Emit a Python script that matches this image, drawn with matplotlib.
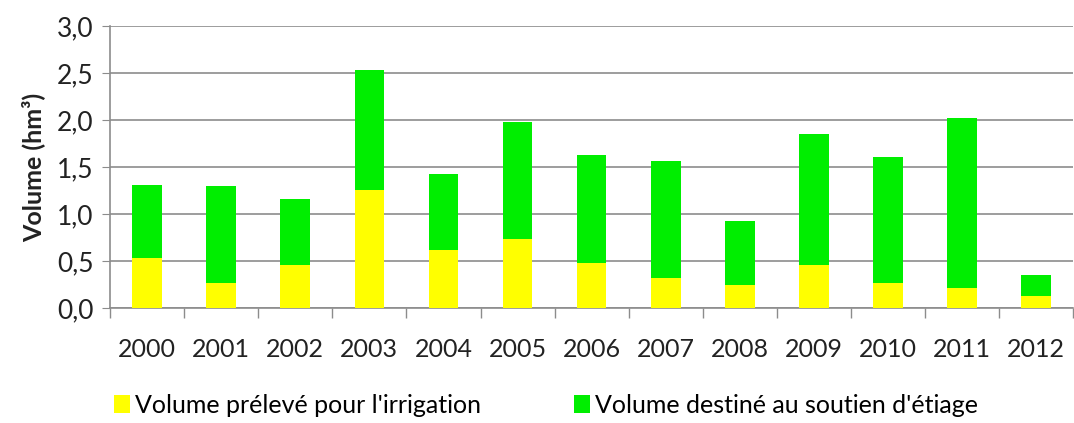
import numpy as np
import matplotlib
matplotlib.use("Agg")
from matplotlib import pyplot as plt
from matplotlib.ticker import FuncFormatter

plt.rcParams['font.family'] = ['Lato', 'DejaVu Sans']

years = ['2000', '2001', '2002', '2003', '2004', '2005', '2006',
         '2007', '2008', '2009', '2010', '2011', '2012']
irrigation = [0.53, 0.27, 0.46, 1.25, 0.62, 0.73, 0.48, 0.32, 0.24, 0.46, 0.27, 0.21, 0.13]
total = [1.31, 1.30, 1.16, 2.53, 1.43, 1.98, 1.63, 1.56, 0.92, 1.85, 1.61, 2.02, 0.35]
etiage = [t - i for t, i in zip(total, irrigation)]

fig = plt.figure(figsize=(10.74, 4.23), dpi=100)
ax = fig.add_axes([0.1024, 0.272, 0.897, 0.6665])

x = np.arange(len(years))
ax.bar(x, irrigation, width=0.4, color='#ffff00', label="Volume prélevé pour l'irrigation", zorder=3)
ax.bar(x, etiage, width=0.4, bottom=irrigation, color='#00ee00', label="Volume destiné au soutien d'étiage", zorder=3)

ax.set_xlim(-0.5, len(years) - 0.5)
ax.set_ylim(0, 3.0)
ax.set_yticks(np.arange(0, 3.01, 0.5))
ax.yaxis.set_major_formatter(FuncFormatter(lambda v, p: f"{v:.1f}".replace('.', ',')))
ax.yaxis.grid(True, color='#8c8c8c', linewidth=1.2, zorder=0)

ax.set_xticks(x)
ax.set_xticklabels(years)
ax.set_xticks(np.arange(-0.5, len(years), 1), minor=True)
ax.tick_params(axis='x', which='major', length=0, pad=22, labelsize=18, labelcolor='#222222')
ax.tick_params(axis='x', which='minor', length=7, color='#8c8c8c', width=1)
ax.tick_params(axis='y', length=6, color='#8c8c8c', labelsize=19, labelcolor='#222222', pad=6)

for s in ['top', 'right']:
    ax.spines[s].set_visible(False)
for s in ['left', 'bottom']:
    ax.spines[s].set_color('#8c8c8c')
    ax.spines[s].set_linewidth(1.2)

ax.set_ylabel('Volume (hm³)', fontsize=18, fontweight='bold', color='#222222', labelpad=8)

fig.legend(loc='lower left', bbox_to_anchor=(0.085, -0.038), ncol=2, frameon=False,
           fontsize=18, handlelength=0.65, handleheight=0.75, handletextpad=0.2,
           columnspacing=3.7)

fig.savefig('out.png', dpi=100)
